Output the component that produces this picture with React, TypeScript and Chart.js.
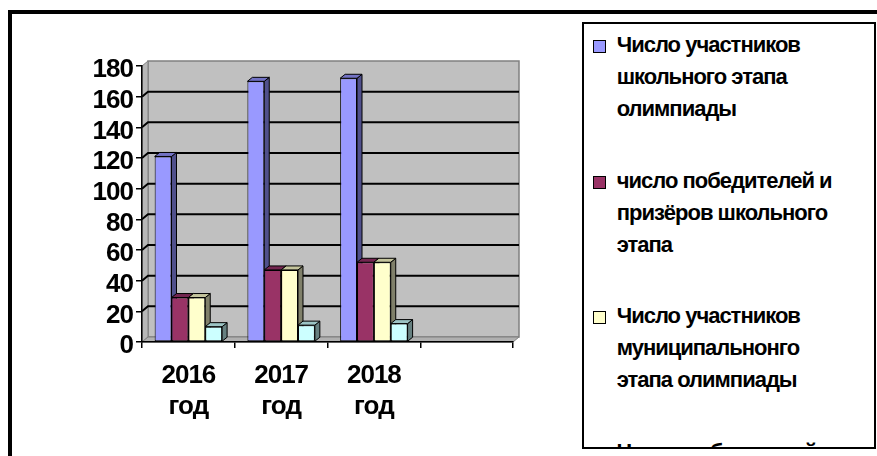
import React, { useEffect, useRef } from "react";
import { Chart, registerables } from "chart.js";

Chart.register(...registerables);

// ---- data ----
const YEARS = ["2016 год", "2017 год", "2018 год", ""];
const SERIES_NAMES = [
  "Число участников\nшкольного этапа\nолимпиады",
  "число победителей и\nпризёров школьного\nэтапа",
  "Число участников\nмуниципальнонго\nэтапа олимпиады",
  "Число победителей и\nпризёров муниципального\nэтапа",
];
const SCHOOL_PARTICIPANTS = [121, 170, 172];
const SCHOOL_WINNERS = [29, 47, 52];
const MUNICIPAL_PARTICIPANTS = [29, 47, 52];
const MUNICIPAL_WINNERS = [10, 11, 12];
const Y_TICKS = [0, 20, 40, 60, 80, 100, 120, 140, 160, 180];

// ---- styles ----
const FRONT = ["#9999FF", "#993366", "#FFFFCC", "#CCFFFF"];
const TOP = ["#7272C4", "#732650", "#C4C49C", "#9CC4C4"];
const SIDE = ["#50508C", "#4C1A33", "#80806A", "#668080"];
const FONT = "'Liberation Sans', Arial, sans-serif";
const BAR_DX = 5;
const BAR_DY = -4;
const WALL_DX = 6;
const WALL_DY = -5;

function poly(ctx: CanvasRenderingContext2D, pts: number[][], fill: string, stroke: string, lw: number) {
  ctx.beginPath();
  ctx.moveTo(pts[0][0], pts[0][1]);
  for (let i = 1; i < pts.length; i++) ctx.lineTo(pts[i][0], pts[i][1]);
  ctx.closePath();
  ctx.fillStyle = fill;
  ctx.fill();
  ctx.strokeStyle = stroke;
  ctx.lineWidth = lw;
  ctx.stroke();
}

const plot3d = {
  id: "plot3d",
  beforeDraw(chart: any) {
    const { ctx, chartArea: a, scales } = chart;
    const ys = scales.y;
    ctx.save();
    const L = a.left, R = a.right, T = a.top, B = a.bottom;
    // back wall
    poly(ctx, [[L + WALL_DX, T + WALL_DY], [R + WALL_DX, T + WALL_DY], [R + WALL_DX, B + WALL_DY], [L + WALL_DX, B + WALL_DY]], "#C0C0C0", "#808080", 1.5);
    // left side wall
    poly(ctx, [[L, T], [L + WALL_DX, T + WALL_DY], [L + WALL_DX, B + WALL_DY], [L, B]], "#B8B8B8", "#808080", 1);
    // floor
    poly(ctx, [[L, B], [L + WALL_DX, B + WALL_DY], [R + WALL_DX, B + WALL_DY], [R, B]], "#B0B0B0", "#808080", 1);
    // gridlines
    ctx.strokeStyle = "#000";
    ctx.lineWidth = 2;
    Y_TICKS.forEach((v) => {
      if (v === Y_TICKS[0] || v === Y_TICKS[Y_TICKS.length - 1]) return;
      const y = ys.getPixelForValue(v);
      ctx.beginPath();
      ctx.moveTo(L, y);
      ctx.lineTo(L + WALL_DX, y + WALL_DY);
      ctx.lineTo(R + WALL_DX, y + WALL_DY);
      ctx.stroke();
    });
    ctx.restore();
    (ctx as any).letterSpacing = "-1px";
  },
  beforeDatasetsDraw(chart: any) {
    const { ctx } = chart;
    ctx.save();
    ctx.lineJoin = "miter";
    chart.data.datasets.forEach((ds: any, i: number) => {
      const meta = chart.getDatasetMeta(i);
      meta.data.forEach((el: any, j: number) => {
        if (ds.data[j] == null) return;
        const p = el.getProps(["x", "y", "base", "width"], true);
        if (p.y == null || isNaN(p.y)) return;
        const l = p.x - p.width / 2;
        const r = p.x + p.width / 2;
        const t = Math.min(p.y, p.base);
        const b = Math.max(p.y, p.base);
        poly(ctx, [[r, t], [r + BAR_DX, t + BAR_DY], [r + BAR_DX, b + BAR_DY], [r, b]], SIDE[i], "#000", 1);
        poly(ctx, [[l, t], [l + BAR_DX, t + BAR_DY], [r + BAR_DX, t + BAR_DY], [r, t]], TOP[i], "#000", 1);
      });
    });
    ctx.restore();
  },
};

export default function App() {
  const ref = useRef<HTMLCanvasElement>(null);

  useEffect(() => {
    if (!ref.current) return;
    const series = [SCHOOL_PARTICIPANTS, SCHOOL_WINNERS, MUNICIPAL_PARTICIPANTS, MUNICIPAL_WINNERS];
    const chart = new Chart(ref.current, {
      type: "bar",
      data: {
        labels: YEARS.map((s) => (s ? s.split(" ") : "")),
        datasets: series.map((d, i) => ({
          label: SERIES_NAMES[i].replace(/\n/g, " "),
          data: d,
          backgroundColor: FRONT[i],
          borderColor: "#000",
          borderWidth: 1,
          borderSkipped: false,
          categoryPercentage: 4 / 5.5,
          barPercentage: 1,
        })),
      },
      options: {
        animation: false,
        responsive: false,
        devicePixelRatio: 1,
        layout: { padding: { left: 42, right: 364, top: 66, bottom: 0 } },
        plugins: { legend: { display: false }, tooltip: { enabled: false } },
        scales: {
          x: {
            grid: { display: true, drawOnChartArea: false, drawTicks: true, tickLength: 6, color: "#000", lineWidth: 1.5, offset: true },
            border: { display: true, color: "#000", width: 1.5 },
            ticks: { color: "#000", padding: 12, maxRotation: 0, autoSkip: false, font: { family: FONT, size: 26, weight: "bold", lineHeight: 1.2 } },
            afterFit: (s: any) => { s.height = 114; },
          },
          y: {
            min: 0,
            max: 180,
            afterBuildTicks: (s: any) => { s.ticks = Y_TICKS.map((v) => ({ value: v })); },
            grid: { display: true, drawOnChartArea: false, drawTicks: true, tickLength: 6, color: "#000", lineWidth: 1.5 },
            border: { display: true, color: "#000", width: 1.5 },
            ticks: { color: "#000", padding: 3, labelOffset: 4, autoSkip: false, font: { family: FONT, size: 26, weight: "bold" } },
            afterFit: (s: any) => { s.width = 100; },
          },
        },
      },
      plugins: [plot3d],
    });
    return () => chart.destroy();
  }, []);

  return (
    <div style={{ position: "fixed", left: 0, top: 0, width: 877, height: 456, overflow: "hidden", background: "#fff" }}>
      <div style={{ position: "absolute", left: 8, top: 10, width: 900, height: 500, border: "4px solid #000", boxSizing: "border-box" }} />
      <canvas ref={ref} width={877} height={456} style={{ position: "absolute", left: 0, top: 0, width: 877, height: 456 }} />
      <div
        style={{
          position: "absolute",
          left: 582,
          top: 22,
          width: 294,
          height: 427,
          border: "2px solid #000",
          boxSizing: "border-box",
          background: "#fff",
          overflow: "hidden",
          fontFamily: FONT,
          fontWeight: "bold",
          fontSize: 22,
          letterSpacing: "-1px",
          lineHeight: "32px",
          color: "#000",
        }}
      >
        {SERIES_NAMES.map((name, i) => (
          <div key={i} style={{ position: "absolute", left: 0, top: 5.3 + i * 135.5, width: 400 }}>
            <div
              style={{
                position: "absolute",
                left: 9,
                top: 11,
                width: 13,
                height: 13,
                boxSizing: "border-box",
                border: "1px solid #000",
                background: FRONT[i],
              }}
            />
            <div style={{ position: "absolute", left: 32.7, top: 0, whiteSpace: "pre" }}>{name}</div>
          </div>
        ))}
      </div>
    </div>
  );
}
